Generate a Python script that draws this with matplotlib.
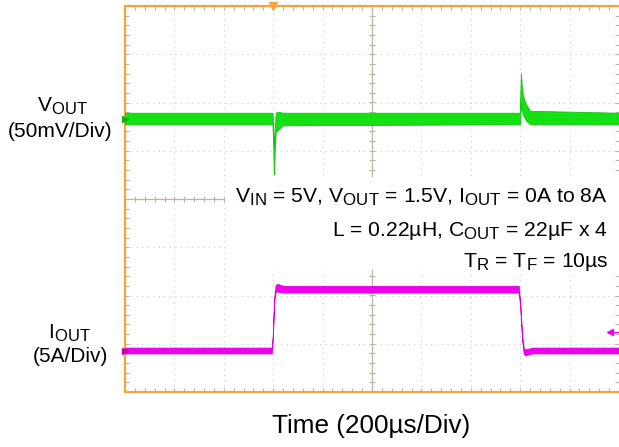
import numpy as np
import matplotlib
matplotlib.use("Agg")
import matplotlib.pyplot as plt
from matplotlib.ticker import MultipleLocator
from matplotlib.patches import Rectangle
import matplotlib._mathtext as _mt

_mt.SHRINK_FACTOR = 0.8

plt.rcParams['font.family'] = ['Liberation Sans', 'DejaVu Sans']
plt.rcParams['mathtext.fontset'] = 'custom'
plt.rcParams['mathtext.rm'] = 'Liberation Sans'
plt.rcParams['mathtext.it'] = 'Liberation Sans:italic'
plt.rcParams['mathtext.bf'] = 'Liberation Sans:bold'

# ---- scope settings ----
time_per_div = 200.0      # us / div
vout_per_div = 50.0       # mV / div
iout_per_div = 5.0        # A / div
vout_offset_div = 1.668   # baseline position of VOUT trace (div)
iout_offset_div = -3.14   # 0 A position of IOUT trace (div)

# ---- VOUT trace envelope (deviation in mV) ----
vout_t = [0, 597, 600, 603, 606, 610, 618, 640, 1598, 1601, 1603, 1606, 1611, 1623, 1640, 2000]
vout_hi = [6, 6, -5, -30, -15, 6, 7, 6, 6, 30, 47, 35, 24, 15, 8, 6]
vout_lo = [-6, -6, -25, -58, -35, -14, -12, -7, -6, 2, 15, 10, 4, -2, -6, -6]

# ---- IOUT trace envelope (A) ----
iout_t = [0, 594, 598, 604, 610, 618, 640, 1594, 1600, 1608, 1614, 1620, 1650, 2000]
iout_hi = [0.3, 0.3, 1.5, 5.5, 6.8, 6.9, 6.7, 6.7, 5.0, 1.5, 0.3, 0.1, 0.3, 0.3]
iout_lo = [-0.3, -0.3, 1.0, 5.0, 6.1, 6.1, 6.0, 6.0, 4.5, 1.0, -0.3, -0.5, -0.3, -0.3]

trigger_t = 600

ORANGE = '#f2a53e'
GREEN = '#14e014'
MAGENTA = '#f000f0'
GRID = '#cccccc'
CENTER = '#bdb4a3'

fig = plt.figure(figsize=(6.19, 4.47), dpi=100)
W, H = 619, 447
ax = fig.add_axes([125 / W, 55 / H, 494 / W, 386 / H])
ax.set_xlim(0, 10 * time_per_div)
ax.set_ylim(-4, 4)

# grid
for k in range(1, 10):
    if k != 5:
        ax.axvline(k * time_per_div, color=GRID, lw=0.8, ls=(0, (1, 4)), zorder=1)
for k in range(-3, 4):
    if k != 0:
        ax.axhline(k, color=GRID, lw=0.8, ls=(0, (1, 4)), zorder=1)

# center cross with ticks
ax.axvline(5 * time_per_div, color=CENTER, lw=0.9, zorder=1.2)
ax.axhline(0, color=CENTER, lw=0.9, zorder=1.2)
xt = np.arange(0, 10 * time_per_div + 1, time_per_div / 5)
yt = np.arange(-4, 4.01, 0.2)
ax.plot(xt, np.zeros_like(xt), ls='none', marker='|', ms=5, mew=0.8, color=CENTER, zorder=1.2)
ax.plot(np.full_like(yt, 5 * time_per_div), yt, ls='none', marker='_', ms=5, mew=0.8, color=CENTER, zorder=1.2)

# frame ticks
ax.xaxis.set_major_locator(MultipleLocator(time_per_div))
ax.xaxis.set_minor_locator(MultipleLocator(time_per_div / 5))
ax.yaxis.set_major_locator(MultipleLocator(1))
ax.yaxis.set_minor_locator(MultipleLocator(0.2))
ax.tick_params(which='both', direction='in', length=3, width=0.8, color=CENTER,
               top=True, right=True, labelbottom=False, labelleft=False)
for s in ['left', 'top', 'bottom']:
    ax.spines[s].set_color(ORANGE)
    ax.spines[s].set_linewidth(1.6)
ax.spines['right'].set_visible(False)

# white annotation box
x0 = (225 - 125) / 49.4 * time_per_div
ax.add_patch(Rectangle((x0, -1.47), 10 * time_per_div - x0, 0.456 + 1.47,
                       facecolor='white', edgecolor='none', zorder=2))

# traces
vt = np.array(vout_t, dtype=float)
ax.fill_between(vt, vout_offset_div + np.array(vout_hi) / vout_per_div,
                vout_offset_div + np.array(vout_lo) / vout_per_div,
                color=GREEN, lw=0.6, edgecolor='#10c410', zorder=4)
it = np.array(iout_t, dtype=float)
ax.fill_between(it, iout_offset_div + np.array(iout_hi) / iout_per_div,
                iout_offset_div + np.array(iout_lo) / iout_per_div,
                color=MAGENTA, lw=0.6, edgecolor='#dd00dd', zorder=4)

# markers
ax.plot([trigger_t], [4], marker='v', ms=6, color=ORANGE, clip_on=False, zorder=5)
ax.plot([0], [vout_offset_div], marker='>', ms=5, color='#10b010', clip_on=False, zorder=5)
ax.plot([0], [iout_offset_div], marker='>', ms=5, color='#c000c0', clip_on=False, zorder=5)
ax.plot([1962, 2000], [-2.76, -2.76], color=MAGENTA, lw=0.8, zorder=5)
ax.plot([1962], [-2.76], marker='<', ms=4, color=MAGENTA, zorder=5)

# annotation text
tx = (608 - 125) / 49.4 * time_per_div
fs = 15.2
ax.text(tx, -0.083, r"V$_{\mathrm{IN}}$ = 5V, V$_{\mathrm{OUT}}$ = 1.5V, I$_{\mathrm{OUT}}$ = 0A to 8A",
        ha='right', va='baseline', fontsize=fs, zorder=3)
ax.text(tx, -0.767, r"L = 0.22µH, C$_{\mathrm{OUT}}$ = 22µF x 4",
        ha='right', va='baseline', fontsize=fs, zorder=3)
ax.text(tx, -1.41, r"T$_{\mathrm{R}}$ = T$_{\mathrm{F}}$ = 10µs",
        ha='right', va='baseline', fontsize=fs, zorder=3)

# channel labels
def fy(py):
    return 1 - py / H

fig.text(62 / W, fy(112), r"V$_{\mathrm{OUT}}$", ha='center', va='baseline', fontsize=15)
fig.text(60 / W, fy(137), "(50mV/Div)", ha='center', va='baseline', fontsize=15)
fig.text(69 / W, fy(339), r"I$_{\mathrm{OUT}}$", ha='center', va='baseline', fontsize=15)
fig.text(70 / W, fy(362), "(5A/Div)", ha='center', va='baseline', fontsize=15)
fig.text(371 / W, fy(433), "Time (200µs/Div)", ha='center', va='baseline', fontsize=18.8)

fig.savefig("out.png", dpi=100)
